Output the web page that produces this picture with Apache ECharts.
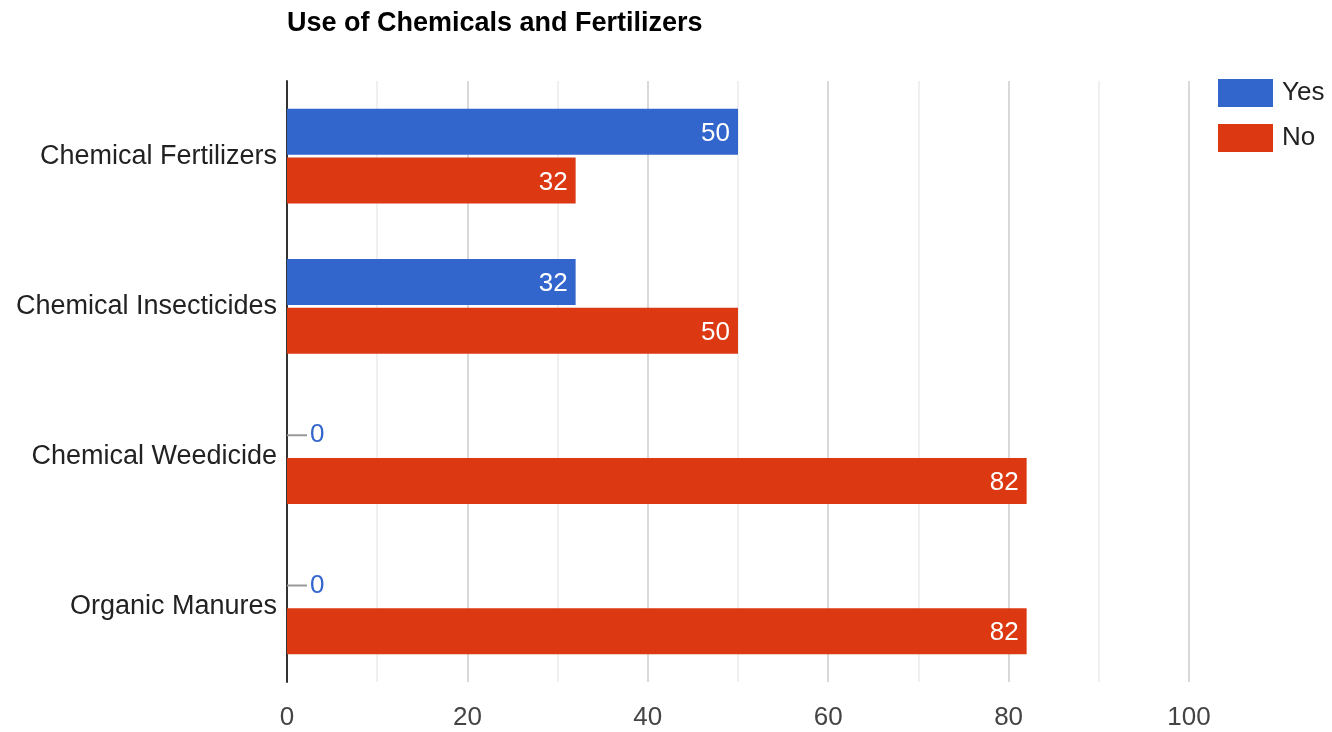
<!DOCTYPE html>
<html>
<head>
<meta charset="utf-8">
<script src="https://cdn.jsdelivr.net/npm/echarts@6/dist/echarts.min.js"></script>
<style>
html,body{margin:0;padding:0;background:#fff;}
#chart{width:1332px;height:732px;}
</style>
</head>
<body>
<div id="chart"></div>
<script>
const categories = ['Chemical Fertilizers', 'Chemical Insecticides', 'Chemical Weedicide', 'Organic Manures'];
const yesValues = [50, 32, 0, 0];
const noValues = [32, 50, 82, 82];
const seriesNames = ['Yes', 'No'];
const colors = ['#3366cc', '#dc3912'];
const titleText = 'Use of Chemicals and Fertilizers';

const FONT = 'Arial, "Liberation Sans", sans-serif';

function buildData(values, color) {
  return values.map(v => {
    if (v === 0) {
      return {
        value: v,
        label: {
          show: true,
          position: 'right',
          distance: 0,
          offset: [0, 3],
          formatter: '{ln|}{z|0}',
          rich: {
            ln: { width: 20, height: 2, backgroundColor: '#999' },
            z: { color: color, fontSize: 26, fontFamily: FONT, padding: [0, 0, 0, 3] }
          }
        }
      };
    }
    return { value: v };
  });
}

const chart = echarts.init(document.getElementById('chart'), null, { renderer: 'canvas' });
chart.setOption({
  animation: false,
  backgroundColor: '#ffffff',
  title: {
    text: titleText,
    left: 287,
    top: 10,
    padding: 0,
    textStyle: { fontFamily: FONT, fontWeight: 'bold', fontSize: 27, color: '#000' }
  },
  legend: {
    orient: 'vertical',
    left: 1218,
    top: 79,
    padding: 0,
    itemWidth: 55,
    itemHeight: 28,
    itemGap: 17,
    icon: 'rect',
    data: seriesNames,
    textStyle: { fontFamily: FONT, fontSize: 26, color: '#222', padding: [4, 0, 0, 4] }
  },
  grid: { left: 287, right: 143, top: 81, bottom: 50, containLabel: false },
  xAxis: {
    type: 'value',
    min: 0,
    max: 100,
    interval: 10,
    axisLine: { show: false },
    axisTick: { show: false },
    axisLabel: {
      margin: 23,
      fontSize: 26,
      fontFamily: FONT,
      color: '#444',
      formatter: v => (v % 20 === 0 ? String(v) : '')
    },
    splitLine: { show: true, lineStyle: { color: ['#cccccc', '#ebebeb'], width: 1.5 } }
  },
  yAxis: {
    type: 'category',
    data: categories,
    inverse: true,
    axisLine: { show: true, lineStyle: { color: '#333', width: 2 } },
    axisTick: { show: false },
    axisLabel: { margin: 10, fontSize: 27, fontFamily: FONT, color: '#222', padding: [4, 0, 0, 0] },
    splitLine: { show: false }
  },
  series: [
    {
      name: seriesNames[0],
      type: 'bar',
      data: buildData(yesValues, colors[0]),
      barWidth: 46,
      barGap: '6%',
      itemStyle: { color: colors[0] },
      label: { show: true, position: 'insideRight', distance: 8, offset: [0, 2], color: '#fff', fontSize: 26, fontFamily: FONT }
    },
    {
      name: seriesNames[1],
      type: 'bar',
      data: buildData(noValues, colors[1]),
      barWidth: 46,
      barGap: '6%',
      itemStyle: { color: colors[1] },
      label: { show: true, position: 'insideRight', distance: 8, offset: [0, 2], color: '#fff', fontSize: 26, fontFamily: FONT }
    }
  ]
});
</script>
</body>
</html>
